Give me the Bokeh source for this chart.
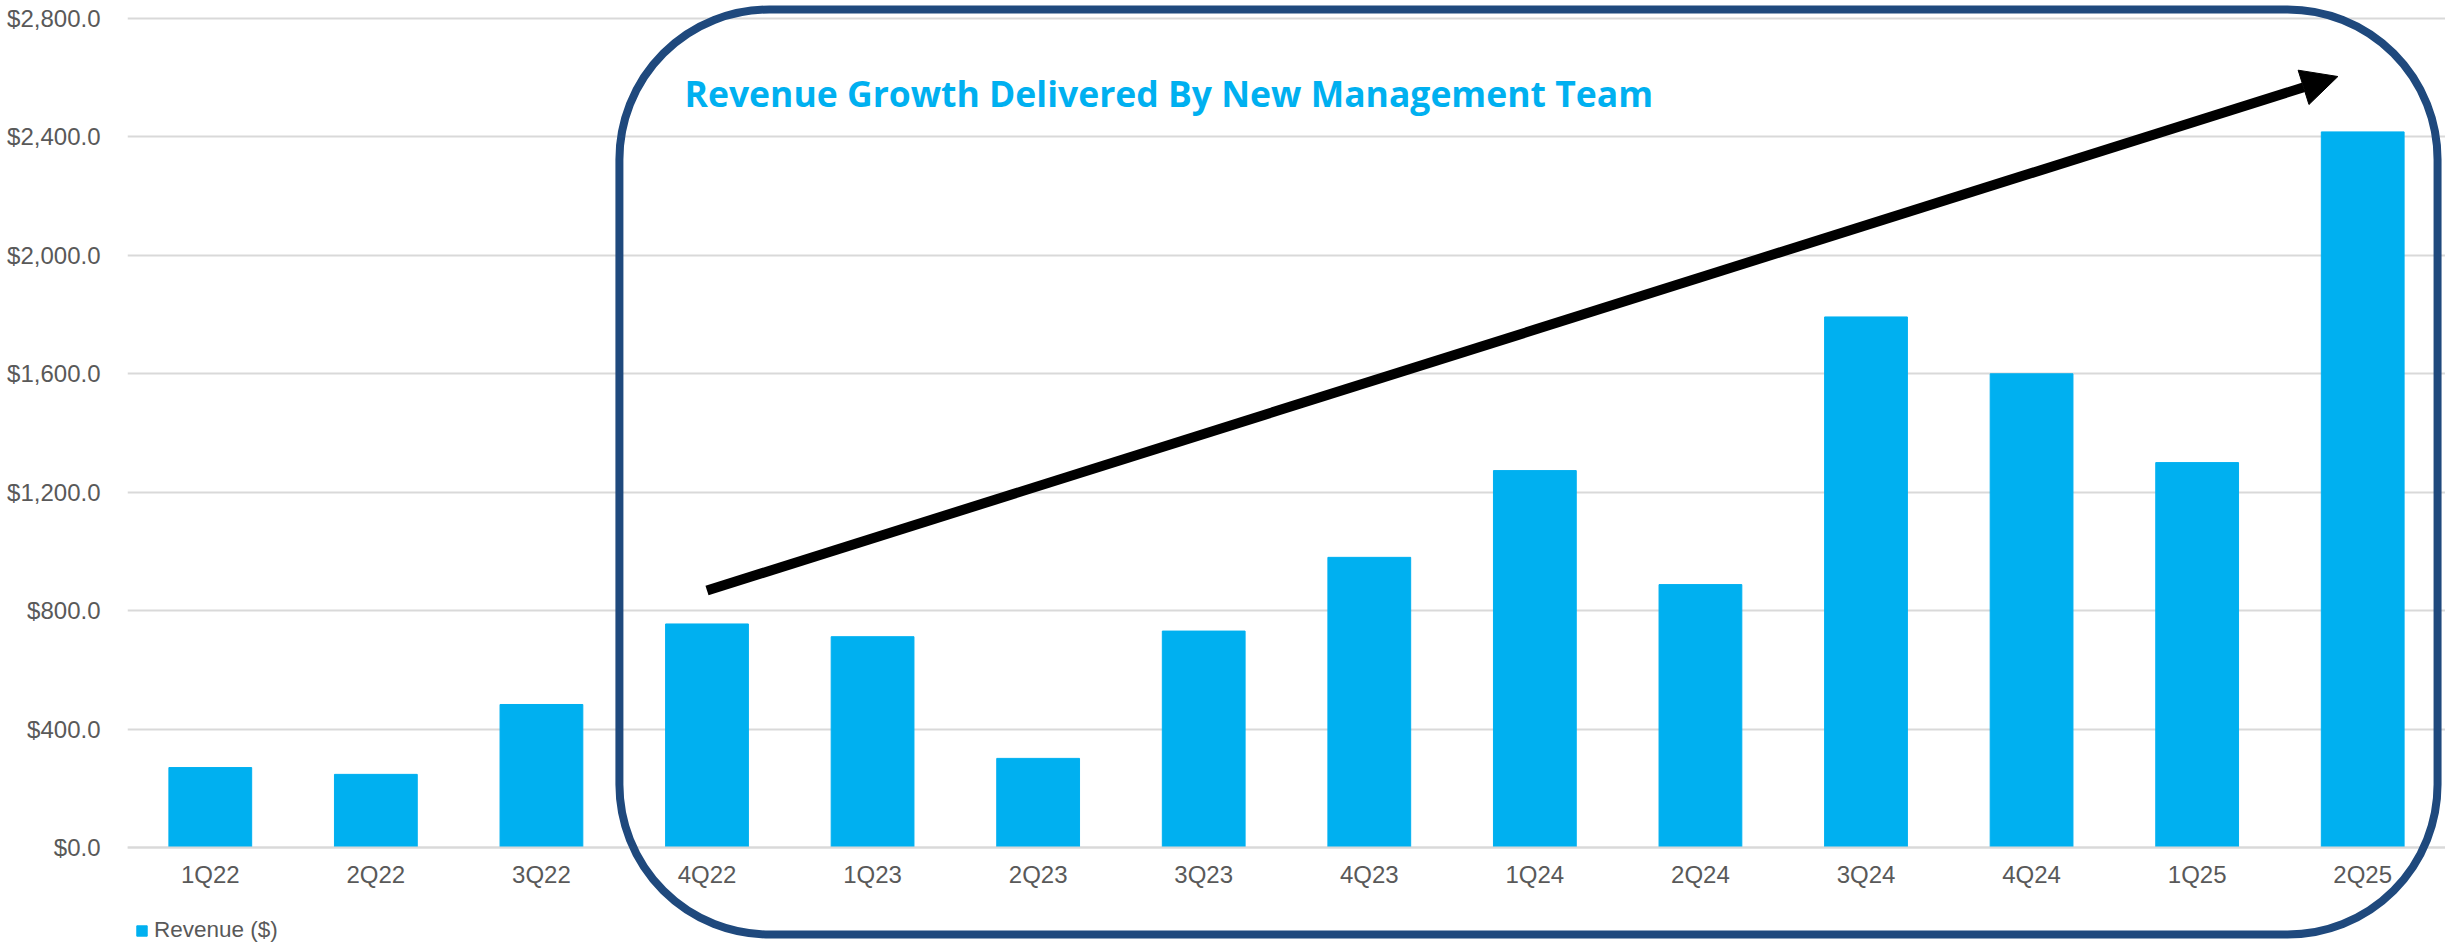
from bokeh.plotting import figure
from bokeh.models import (ColumnDataSource, NumeralTickFormatter, FixedTicker, BoxAnnotation,
                          Arrow, NormalHead, Label, Legend, LegendItem)
from bokeh.embed import file_html
from bokeh.resources import INLINE

quarters = ["1Q22", "2Q22", "3Q22", "4Q22", "1Q23", "2Q23", "3Q23", "4Q23",
            "1Q24", "2Q24", "3Q24", "4Q24", "1Q25", "2Q25"]
revenue = [270, 247, 483, 755, 712, 301, 731, 980, 1273, 888, 1792, 1600, 1300, 2417]
y_ticks = [0, 400, 800, 1200, 1600, 2000, 2400, 2800]
series_name = "Revenue ($)"
title_text = "Revenue Growth Delivered By New Management Team"

BAR = "#00B0F0"
GRAY = "#595959"
GRID = "#D9D9D9"
NAVY = "#1F497D"

src = ColumnDataSource(dict(q=quarters, v=revenue))

# y range extended beyond 0..2800 so the highlight box and legend sit inside the frame
p = figure(x_range=quarters, y_range=(-331, 2860.8), frame_width=2318, frame_height=945,
           output_backend="svg", toolbar_location=None,
           min_border_left=127, min_border_right=0, min_border_top=0, min_border_bottom=0)
p.outline_line_color = None
p.background_fill_color = "white"
p.border_fill_color = "white"

r = p.vbar(x="q", top="v", bottom=0, width=0.5, source=src, fill_color=BAR, line_color=BAR)

# axes
p.yaxis.ticker = FixedTicker(ticks=y_ticks)
p.yaxis.formatter = NumeralTickFormatter(format="$0,0.0")
p.yaxis.axis_line_color = None
p.yaxis.major_tick_line_color = None
p.yaxis.minor_tick_line_color = None
p.yaxis.major_label_text_font = "Liberation Sans"
p.yaxis.major_label_text_font_size = "24px"
p.yaxis.major_label_text_color = GRAY
p.yaxis.major_label_standoff = 21

p.xaxis.fixed_location = 0
p.xaxis.axis_line_color = GRID
p.xaxis.axis_line_width = 2
p.xaxis.major_tick_line_color = None
p.xaxis.minor_tick_line_color = None
p.xaxis.major_label_text_font = "Liberation Sans"
p.xaxis.major_label_text_font_size = "24px"
p.xaxis.major_label_text_color = GRAY
p.xaxis.major_label_standoff = 7

p.xgrid.grid_line_color = None
p.ygrid.ticker = FixedTicker(ticks=y_ticks)
p.ygrid.grid_line_color = GRID
p.ygrid.grid_line_width = 2

# rounded highlight box
box = BoxAnnotation(left=2.971, right=13.952, top=2830.4, bottom=-293.9,
                    fill_alpha=0, line_color=NAVY, line_alpha=1.0, line_width=8,
                    border_radius=150, level="overlay")
p.add_layout(box)

# arrow
p.add_layout(Arrow(end=NormalHead(size=36, fill_color="black", line_color="black", line_width=1),
                   x_start=3.5, y_start=868, x_end=13.35, y_end=2604,
                   line_color="black", line_width=10))

# title text inside box
p.add_layout(Label(x=3.364, y=2550, text=title_text, text_font="Open Sans",
                   text_font_style="bold", text_font_size="35.5px", text_color=BAR,
                   text_baseline="alphabetic"))

legend = Legend(items=[LegendItem(label=series_name, renderers=[r])],
                location=(8, 2), orientation="horizontal",
                label_text_font="Liberation Sans", label_text_font_size="22.5px",
                label_text_color=GRAY, glyph_width=13, glyph_height=13, label_height=20,
                border_line_color=None, background_fill_alpha=0,
                padding=0, margin=0, label_standoff=6)
p.add_layout(legend)

open("out.html", "w").write(file_html(p, INLINE))
